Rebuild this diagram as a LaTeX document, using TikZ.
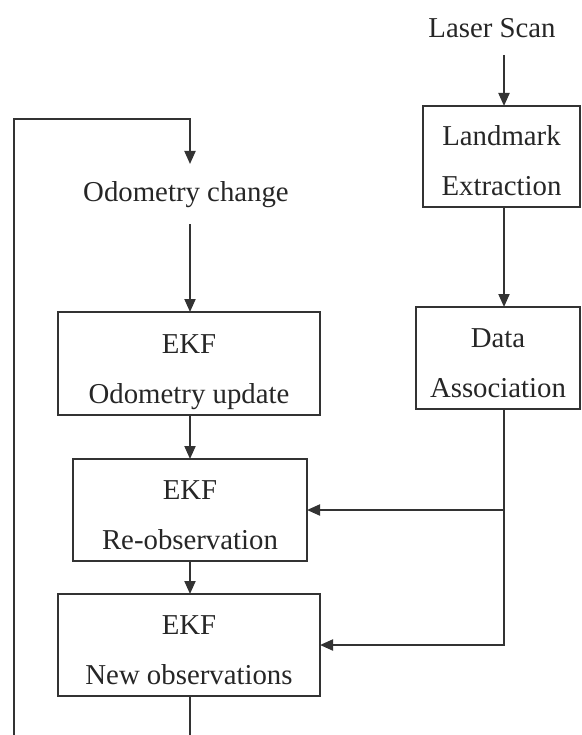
\documentclass[tikz,border=0pt]{standalone}
\usepackage{fontspec}
\setmainfont{Liberation Serif}
\usetikzlibrary{arrows.meta}
\newcommand{\topstr}{\rule{0pt}{36pt}}
\newcommand{\botstr}{\rule[-7pt]{0pt}{7pt}}
\begin{document}
\begin{tikzpicture}[x=1pt,y=-1pt,
  line width=2pt,
  every node/.style={font=\fontsize{28.8}{50}\selectfont, text=black!85, inner sep=0pt, outer sep=0pt},
  box/.style={draw=black!80, line width=2pt, align=center, rectangle},
  arr/.style={draw=black!80, -{Triangle[length=13pt,width=11pt]}},
  ln/.style={draw=black!80}]
\useasboundingbox (0,0) rectangle (581,735);
% column coordinates
\coordinate (rc) at (504,0);
\coordinate (lc) at (190,0);
% nodes
\node (laser) at (492,28) {Laser Scan};
\node[box, minimum width=157pt, minimum height=101pt] (land) at (501.5,156.5) {\topstr Landmark\\Extraction\botstr};
\node[box, minimum width=164pt, minimum height=102pt] (data) at (498,358) {\topstr Data\\Association\botstr};
\node[anchor=base, text height=20pt, text depth=6pt, inner ysep=17pt] (odo) at (186,201) {Odometry change};
\node[box, minimum width=262pt, minimum height=103pt] (upd) at (189,363.5) {\topstr EKF\\Odometry update\botstr};
\node[box, minimum width=234pt, minimum height=102pt] (reobs) at (190,510) {\topstr EKF\\Re-observation\botstr};
\node[box, minimum width=262pt, minimum height=102pt] (newobs) at (189,645) {\topstr EKF\\New observations\botstr};
% free ends
\coordinate (lstart) at (504,55);
\coordinate (loopbot) at (14,740);
\coordinate (looptop) at (190,119);
\coordinate (outend) at (190,740);
% connectors
\draw[arr] (lstart) -- (land.north -| rc);
\draw[arr] (land.south -| rc) -- (data.north -| rc);
\draw[arr] (data.south -| rc) |- (newobs.east);
\draw[arr] (rc |- reobs.east) -- (reobs.east);
\draw[arr, line join=miter] (loopbot) |- (looptop) -- (odo.north -| lc);
\draw[arr] (odo.south -| lc) -- (upd.north -| lc);
\draw[arr] (upd.south -| lc) -- (reobs.north -| lc);
\draw[arr] (reobs.south -| lc) -- (newobs.north -| lc);
\draw[ln] (newobs.south -| lc) -- (outend);
\end{tikzpicture}
\end{document}
